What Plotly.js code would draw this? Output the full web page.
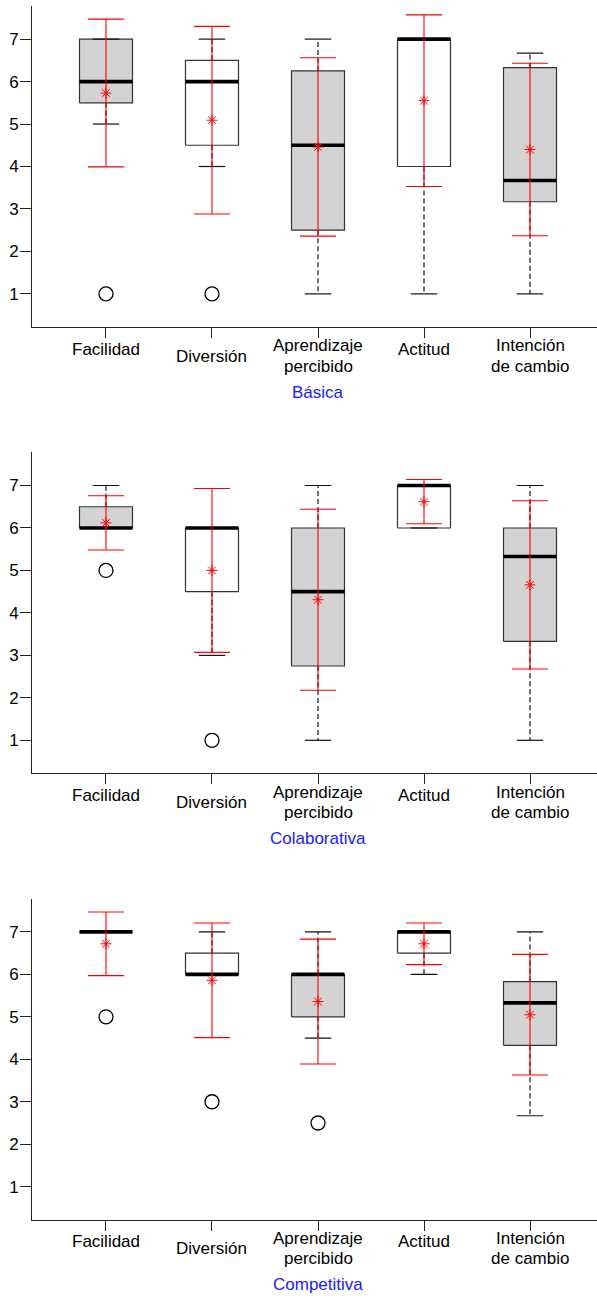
<!DOCTYPE html>
<html>
<head>
<meta charset="utf-8">
<script src="https://cdn.plot.ly/plotly-3.0.1.min.js"></script>
<style>html,body{margin:0;padding:0;background:#fff;}#chart{width:597px;height:1296px;}</style>
</head>
<body>
<div id="chart"></div>
<script>
// ---- Data ----
const categories = ['Facilidad', 'Diversión', 'Aprendizaje<br>percibido', 'Actitud', 'Intención<br>de cambio'];
const groups = ['Básica', 'Colaborativa', 'Competitiva'];
const yTicks = [1, 2, 3, 4, 5, 6, 7];

// Básica
const basicaLower  = [5, 4, 1, 1, 1];
const basicaQ1     = [5.5, 4.5, 2.5, 4, 3.17];
const basicaMedian = [6, 6, 4.5, 7, 3.67];
const basicaQ3     = [7, 6.5, 6.25, 7, 6.33];
const basicaUpper  = [7, 7, 7, 7, 6.67];
const basicaMean   = [5.73, 5.09, 4.46, 5.55, 4.40];
const basicaSD     = [1.74, 2.21, 2.10, 2.02, 2.03];
const basicaOutCat = [0, 1];
const basicaOutVal = [1, 1];

// Colaborativa
const colabLower  = [6, 3, 1, 6, 1];
const colabQ1     = [6, 4.5, 2.75, 6, 3.33];
const colabMedian = [6, 6, 4.5, 7, 5.33];
const colabQ3     = [6.5, 6, 6, 7, 6];
const colabUpper  = [7, 6, 7, 7, 7];
const colabMean   = [6.12, 5.0, 4.31, 6.62, 4.66];
const colabSD     = [0.64, 1.93, 2.13, 0.52, 1.98];
const colabOutCat = [0, 1];
const colabOutVal = [5, 1];

// Competitiva
const compLower  = [7, 6, 4.5, 6, 2.67];
const compQ1     = [7, 6, 5, 6.5, 4.33];
const compMedian = [7, 6, 6, 7, 5.33];
const compQ3     = [7, 6.5, 6, 7, 5.83];
const compUpper  = [7, 7, 7, 7, 7];
const compMean   = [6.72, 5.86, 5.36, 6.72, 5.05];
const compSD     = [0.75, 1.35, 1.47, 0.49, 1.42];
const compOutCat = [0, 1, 2];
const compOutVal = [5, 3, 2.5];

const panels = [
  {lower: basicaLower, q1: basicaQ1, med: basicaMedian, q3: basicaQ3, upper: basicaUpper, mean: basicaMean, sd: basicaSD, outCat: basicaOutCat, outVal: basicaOutVal},
  {lower: colabLower, q1: colabQ1, med: colabMedian, q3: colabQ3, upper: colabUpper, mean: colabMean, sd: colabSD, outCat: colabOutCat, outVal: colabOutVal},
  {lower: compLower, q1: compQ1, med: compMedian, q3: compQ3, upper: compUpper, mean: compMean, sd: compSD, outCat: compOutCat, outVal: compOutVal}
];

// ---- Style ----
const W = 597, H = 1296;
const fills = ['#d3d3d3', '#ffffff', '#d3d3d3', '#ffffff', '#d3d3d3'];
const boxHalf = 0.25, capHalf = 0.125;
const panelTop = 6, panelBottom = 327, panelStep = 446.4;
const labelOffsets = [[22], [29], [19, 39], [22], [19, 39]];
const subtitleOffset = 65;
const fontFam = 'Liberation Sans, Arial, sans-serif';

const traces = [];
const layout = {
  width: W, height: H,
  margin: {l: 32, r: 0, t: 0, b: 0},
  paper_bgcolor: '#fff', plot_bgcolor: '#fff',
  showlegend: false,
  font: {family: fontFam, size: 17, color: '#000'},
  annotations: []
};

panels.forEach((p, k) => {
  const xa = k === 0 ? 'x' : 'x' + (k + 1);
  const ya = k === 0 ? 'y' : 'y' + (k + 1);
  const top = panelTop + k * panelStep, bot = panelBottom + k * panelStep;
  const xKey = k === 0 ? 'xaxis' : 'xaxis' + (k + 1);
  const yKey = k === 0 ? 'yaxis' : 'yaxis' + (k + 1);
  layout[xKey] = {
    domain: [0, 1], anchor: ya, range: [0.302, 5.632],
    showline: true, linecolor: '#222', linewidth: 1, mirror: false,
    ticks: 'outside', ticklen: 10, tickcolor: '#222', tickwidth: 1,
    tickvals: categories.map((c, i) => i + 1), showticklabels: false,
    showgrid: false, zeroline: false, fixedrange: true
  };
  layout[yKey] = {
    domain: [1 - bot / H, 1 - top / H], anchor: xa, range: [0.22, 7.78],
    showline: true, linecolor: '#222', linewidth: 1,
    ticks: 'outside', ticklen: 11, tickcolor: '#222', tickwidth: 1,
    ticklabelstandoff: -2,
    tickvals: yTicks, ticktext: yTicks.map(String),
    tickfont: {size: 17, color: '#000', family: fontFam},
    showgrid: false, zeroline: false, fixedrange: true
  };

  // boxes
  categories.forEach((c, i) => {
    const x = i + 1;
    traces.push({
      type: 'scatter', mode: 'lines', xaxis: xa, yaxis: ya,
      x: [x - boxHalf, x + boxHalf, x + boxHalf, x - boxHalf, x - boxHalf],
      y: [p.q1[i], p.q1[i], p.q3[i], p.q3[i], p.q1[i]],
      fill: 'toself', fillcolor: fills[i],
      line: {color: '#333', width: 1.2}, hoverinfo: 'skip'
    });
  });

  // dashed whiskers
  const wx = [], wy = [];
  categories.forEach((c, i) => {
    const x = i + 1;
    if (p.upper[i] > p.q3[i]) { wx.push(x, x, null); wy.push(p.q3[i], p.upper[i], null); }
    if (p.lower[i] < p.q1[i]) { wx.push(x, x, null); wy.push(p.q1[i], p.lower[i], null); }
  });
  traces.push({type: 'scatter', mode: 'lines', xaxis: xa, yaxis: ya, x: wx, y: wy,
    line: {color: '#111', width: 1.2, dash: '5px,3px'}, hoverinfo: 'skip'});

  // whisker caps
  const cx = [], cy = [];
  categories.forEach((c, i) => {
    const x = i + 1;
    cx.push(x - capHalf, x + capHalf, null, x - capHalf, x + capHalf, null);
    cy.push(p.upper[i], p.upper[i], null, p.lower[i], p.lower[i], null);
  });
  traces.push({type: 'scatter', mode: 'lines', xaxis: xa, yaxis: ya, x: cx, y: cy,
    line: {color: '#111', width: 1.2}, hoverinfo: 'skip'});

  // medians
  const mx = [], my = [];
  categories.forEach((c, i) => {
    const x = i + 1;
    mx.push(x - boxHalf, x + boxHalf, null);
    my.push(p.med[i], p.med[i], null);
  });
  traces.push({type: 'scatter', mode: 'lines', xaxis: xa, yaxis: ya, x: mx, y: my,
    line: {color: '#000', width: 3.6}, hoverinfo: 'skip'});

  // outliers
  traces.push({type: 'scatter', mode: 'markers', xaxis: xa, yaxis: ya,
    x: p.outCat.map(i => i + 1), y: p.outVal,
    marker: {symbol: 'circle-open', size: 14, color: '#000', line: {color: '#000', width: 1.3}},
    hoverinfo: 'skip'});

  // mean ± sd
  traces.push({type: 'scatter', mode: 'markers', xaxis: xa, yaxis: ya,
    x: categories.map((c, i) => i + 1), y: p.mean,
    error_y: {type: 'data', symmetric: true, array: p.sd, color: '#ff0000', thickness: 1.1, width: 18},
    marker: {symbol: 'asterisk-open', size: 9, color: '#ff0000', line: {color: '#ff0000', width: 1}},
    hoverinfo: 'skip'});

  // category labels
  categories.forEach((c, i) => {
    const lines = c.split('<br>');
    lines.forEach((t, j) => {
      layout.annotations.push({
        xref: xa, yref: 'paper', x: i + 1, y: 1 - (bot + labelOffsets[i][j]) / H,
        text: t, showarrow: false, xanchor: 'center', yanchor: 'middle',
        font: {size: 17, color: '#000', family: fontFam}
      });
    });
  });
  // subtitle
  layout.annotations.push({
    xref: xa, yref: 'paper', x: 3, y: 1 - (bot + subtitleOffset) / H,
    text: groups[k], showarrow: false, xanchor: 'center', yanchor: 'middle',
    font: {size: 17, color: '#1a1aff', family: fontFam}
  });
});

Plotly.newPlot('chart', traces, layout, {displayModeBar: false, staticPlot: true});
</script>
</body>
</html>
